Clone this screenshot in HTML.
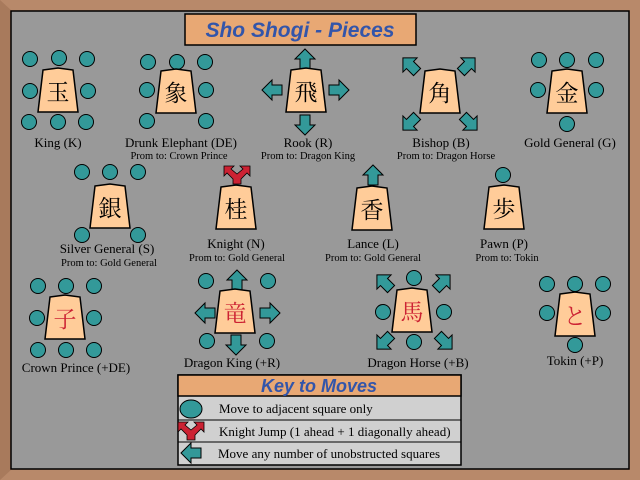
<!DOCTYPE html>
<html><head><meta charset="utf-8"><style>
html,body{margin:0;padding:0;background:#999}
svg{display:block}
text{font-family:"Liberation Serif","Noto Serif CJK SC",serif;fill:#000}
.l{font-size:13px}
.s{font-size:10.5px}
.k{font-family:"Liberation Serif","Noto Serif CJK JP","Noto Sans CJK JP",serif;font-size:23px}
</style></head><body>
<svg width="640" height="480" viewBox="0 0 640 480" xmlns="http://www.w3.org/2000/svg">
<defs>
<path id="pc" d="M-15,-21 L0,-23 L15,-21 L20,21 L-20,21 Z" fill="#ffcc99" stroke="#000" stroke-width="1.5"/>
<circle id="d" r="7.5" fill="#339999" stroke="#000" stroke-width="1"/>
<path id="a" d="M0,-10 L10,0 L5,0 L5,10 L-5,10 L-5,0 L-10,0 Z" fill="#339999" stroke="#000" stroke-width="1"/>
<path id="n" d="M0,-1 L6,-6 L3,-9 L13,-9 L13,1 L10,-2 L4,4 L4,9 L-4,9 L-4,4 L-10,-2 L-13,1 L-13,-9 L-3,-9 L-6,-6 Z" fill="#cc2233" stroke="#000" stroke-width="0.8"/>
</defs>
<rect x="0" y="0" width="640" height="480" fill="#b8896a"/>
<path d="M0,0 L12,11 L12,469 L0,480 Z" fill="#a87a5c"/>
<rect x="11" y="11" width="618" height="458" fill="#999" stroke="#000" stroke-width="1.5"/>
<!-- title -->
<rect x="185" y="14" width="231" height="31" fill="#e8a874" stroke="#000" stroke-width="1.5"/>
<text x="300" y="37" text-anchor="middle" style="font-family:'Liberation Sans',sans-serif;font-style:italic;font-weight:bold;font-size:21px;fill:#3355aa">Sho Shogi - Pieces</text>

<!-- King -->
<use href="#d" x="30" y="59"/><use href="#d" x="59" y="58"/><use href="#d" x="87" y="59"/>
<use href="#d" x="30" y="91"/><use href="#d" x="88" y="91"/>
<use href="#d" x="29" y="122"/><use href="#d" x="58" y="122"/><use href="#d" x="86" y="122"/>
<use href="#pc" x="58" y="91"/><text class="k" x="58" y="100" text-anchor="middle">玉</text>
<text class="l" x="58" y="147" text-anchor="middle">King (K)</text>

<!-- DE -->
<use href="#d" x="148" y="62"/><use href="#d" x="177" y="62"/><use href="#d" x="205" y="62"/>
<use href="#d" x="147" y="90"/><use href="#d" x="206" y="90"/>
<use href="#d" x="147" y="121"/><use href="#d" x="206" y="121"/>
<use href="#pc" x="176" y="92"/><text class="k" x="176" y="101" text-anchor="middle">象</text>
<text class="l" x="181" y="147" text-anchor="middle">Drunk Elephant (DE)</text>
<text class="s" x="179" y="159" text-anchor="middle">Prom to: Crown Prince</text>

<!-- Rook -->
<use href="#a" x="305" y="59"/>
<use href="#a" transform="translate(272,90) rotate(-90)"/>
<use href="#a" transform="translate(339,90) rotate(90)"/>
<use href="#a" transform="translate(305,125) rotate(180)"/>
<use href="#pc" x="306" y="91"/><text class="k" x="306" y="100" text-anchor="middle">飛</text>
<text class="l" x="308" y="147" text-anchor="middle">Rook (R)</text>
<text class="s" x="308" y="159" text-anchor="middle">Prom to: Dragon King</text>

<!-- Bishop -->
<use href="#a" transform="translate(410,65) rotate(-45)"/>
<use href="#a" transform="translate(468,65) rotate(45)"/>
<use href="#a" transform="translate(410,123) rotate(-135)"/>
<use href="#a" transform="translate(470,123) rotate(135)"/>
<use href="#pc" x="440" y="92"/><text class="k" x="440" y="101" text-anchor="middle">角</text>
<text class="l" x="441" y="147" text-anchor="middle">Bishop (B)</text>
<text class="s" x="446" y="159" text-anchor="middle">Prom to: Dragon Horse</text>

<!-- Gold -->
<use href="#d" x="539" y="60"/><use href="#d" x="567" y="60"/><use href="#d" x="596" y="60"/>
<use href="#d" x="538" y="90"/><use href="#d" x="596" y="90"/>
<use href="#d" x="567" y="124"/>
<use href="#pc" x="567" y="92"/><text class="k" x="567" y="101" text-anchor="middle">金</text>
<text class="l" x="570" y="147" text-anchor="middle">Gold General (G)</text>

<!-- Silver -->
<use href="#d" x="82" y="172"/><use href="#d" x="110" y="172"/><use href="#d" x="138" y="172"/>
<use href="#d" x="82" y="235"/><use href="#d" x="138" y="235"/>
<use href="#pc" x="110" y="207"/><text class="k" x="110" y="216" text-anchor="middle">銀</text>
<text class="l" x="107" y="253" text-anchor="middle">Silver General (S)</text>
<text class="s" x="109" y="266" text-anchor="middle">Prom to: Gold General</text>

<!-- Knight -->
<use href="#n" x="237" y="175"/>
<use href="#pc" x="236" y="208"/><text class="k" x="236" y="217" text-anchor="middle">桂</text>
<text class="l" x="236" y="248" text-anchor="middle">Knight (N)</text>
<text class="s" x="237" y="261" text-anchor="middle">Prom to: Gold General</text>

<!-- Lance -->
<use href="#a" x="373" y="175"/>
<use href="#pc" x="372" y="209"/><text class="k" x="372" y="218" text-anchor="middle">香</text>
<text class="l" x="373" y="248" text-anchor="middle">Lance (L)</text>
<text class="s" x="373" y="261" text-anchor="middle">Prom to: Gold General</text>

<!-- Pawn -->
<use href="#d" x="503" y="175"/>
<use href="#pc" x="504" y="208"/><text class="k" x="504" y="217" text-anchor="middle">歩</text>
<text class="l" x="504" y="248" text-anchor="middle">Pawn (P)</text>
<text class="s" x="507" y="261" text-anchor="middle">Prom to: Tokin</text>

<!-- Crown Prince -->
<use href="#d" x="38" y="286"/><use href="#d" x="66" y="286"/><use href="#d" x="94" y="286"/>
<use href="#d" x="37" y="318"/><use href="#d" x="94" y="318"/>
<use href="#d" x="38" y="350"/><use href="#d" x="66" y="350"/><use href="#d" x="94" y="350"/>
<use href="#pc" x="65" y="318"/><text class="k" x="65" y="327" text-anchor="middle" style="fill:#cc2233">子</text>
<text class="l" x="76" y="372" text-anchor="middle">Crown Prince (+DE)</text>

<!-- Dragon King -->
<use href="#a" x="237" y="280"/>
<use href="#a" transform="translate(205,313) rotate(-90)"/>
<use href="#a" transform="translate(270,313) rotate(90)"/>
<use href="#a" transform="translate(236,345) rotate(180)"/>
<use href="#d" x="206" y="281"/><use href="#d" x="268" y="281"/>
<use href="#d" x="207" y="341"/><use href="#d" x="267" y="341"/>
<use href="#pc" x="235" y="312"/><text class="k" x="235" y="321" text-anchor="middle" style="fill:#cc2233">竜</text>
<text class="l" x="232" y="367" text-anchor="middle">Dragon King (+R)</text>

<!-- Dragon Horse -->
<use href="#d" x="414" y="278"/><use href="#d" x="383" y="312"/><use href="#d" x="444" y="312"/><use href="#d" x="414" y="342"/>
<use href="#a" transform="translate(384,282) rotate(-45)"/>
<use href="#a" transform="translate(443,282) rotate(45)"/>
<use href="#a" transform="translate(384,342) rotate(-135)"/>
<use href="#a" transform="translate(445,342) rotate(135)"/>
<use href="#pc" x="412" y="311"/><text class="k" x="412" y="320" text-anchor="middle" style="fill:#cc2233">馬</text>
<text class="l" x="418" y="367" text-anchor="middle">Dragon Horse (+B)</text>

<!-- Tokin -->
<use href="#d" x="547" y="284"/><use href="#d" x="575" y="284"/><use href="#d" x="603" y="284"/>
<use href="#d" x="547" y="313"/><use href="#d" x="603" y="313"/>
<use href="#d" x="575" y="345"/>
<use href="#pc" x="575" y="315"/><text class="k" x="575" y="324" text-anchor="middle" style="fill:#cc2233">と</text>
<text class="l" x="575" y="365" text-anchor="middle">Tokin (+P)</text>

<!-- Key -->
<rect x="178" y="375" width="283" height="90" fill="#d0d0d0" stroke="#000" stroke-width="1.5"/>
<rect x="178" y="375" width="283" height="21" fill="#e8a874" stroke="#000" stroke-width="1.5"/>
<text x="319" y="392" text-anchor="middle" style="font-family:'Liberation Sans',sans-serif;font-style:italic;font-weight:bold;font-size:18px;fill:#3355aa">Key to Moves</text>
<line x1="178" y1="420" x2="461" y2="420" stroke="#000"/>
<line x1="178" y1="442" x2="461" y2="442" stroke="#000"/>
<ellipse cx="191" cy="409" rx="11" ry="9" fill="#339999" stroke="#000"/>
<text class="l" x="219" y="413">Move to adjacent square only</text>
<use href="#n" x="191" y="431"/>
<text class="l" x="219" y="436">Knight Jump (1 ahead + 1 diagonally ahead)</text>
<use href="#a" transform="translate(191,453) rotate(-90)"/>
<text class="l" x="218" y="458">Move any number of unobstructed squares</text>
</svg>
</body></html>
